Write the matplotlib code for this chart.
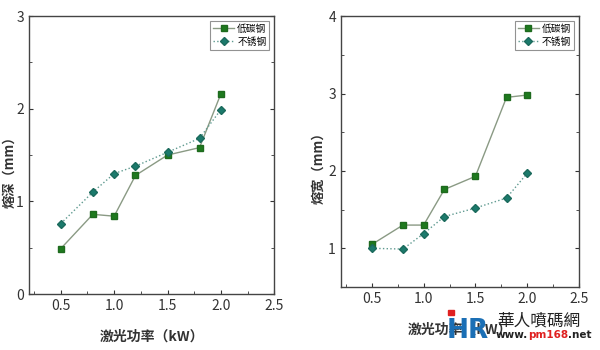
import matplotlib
matplotlib.use("Agg")
import matplotlib.pyplot as plt
from matplotlib.patches import Rectangle
from matplotlib.ticker import MultipleLocator

plt.rcParams['font.family'] = ['Noto Sans CJK SC', 'DejaVu Sans']

power = [0.5, 0.8, 1.0, 1.2, 1.5, 1.8, 2.0]
depth_carbon = [0.49, 0.86, 0.84, 1.28, 1.50, 1.58, 2.16]
depth_stainless = [0.76, 1.10, 1.30, 1.38, 1.53, 1.68, 1.99]
width_carbon = [1.05, 1.30, 1.30, 1.76, 1.93, 2.95, 2.98]
width_stainless = [1.00, 0.99, 1.19, 1.41, 1.52, 1.65, 1.97]
series_names = ["低碳钢", "不锈钢"]
xlabel = "激光功率（kW）"

fig = plt.figure(figsize=(6, 3.5), dpi=100)
ax1 = fig.add_axes([0.048, 0.16, 0.409, 0.794])
ax2 = fig.add_axes([0.568, 0.18, 0.397, 0.774])

tick_col = "#333333"


def draw(ax, carbon, stainless, ylim, ylabel, ylab_x):
    ax.plot(power, carbon, "-", color="#8a9a84", lw=1.0, marker="s", ms=5,
            mfc="#1e7a1e", mec="#1e6a1e", label=series_names[0])
    ax.plot(power, stainless, ":", color="#5f9a90", lw=1.0, marker="D", ms=4.5,
            mfc="#1b7a6c", mec="#1b6a5c", label=series_names[1])
    ax.set_xlim(0.2, 2.5)
    ax.set_ylim(*ylim)
    ax.xaxis.set_major_locator(MultipleLocator(0.5))
    ax.xaxis.set_minor_locator(MultipleLocator(0.25))
    ax.yaxis.set_major_locator(MultipleLocator(1))
    ax.yaxis.set_minor_locator(MultipleLocator(0.5))
    ax.tick_params(which="both", direction="in", right=True, top=False,
                   labelsize=10, colors=tick_col, length=3)
    ax.tick_params(which="minor", length=2)
    for s in ax.spines.values():
        s.set_color("#444444")
        s.set_linewidth(1.0)
    ax.set_ylabel(ylabel, fontsize=9.5, fontweight="bold", color=tick_col)
    ax.yaxis.set_label_coords(ylab_x, 0.45)
    ax.set_xlabel(xlabel, fontsize=10, fontweight="bold", color=tick_col, labelpad=12)
    leg = ax.legend(loc="upper right", fontsize=7, frameon=True, fancybox=False,
                    handlelength=2.2, borderpad=0.3, labelspacing=0.3,
                    handletextpad=0.3, borderaxespad=0.5)
    leg.get_frame().set_edgecolor("#777777")
    leg.get_frame().set_linewidth(0.8)


draw(ax1, depth_carbon, depth_stainless, (0, 3), "熔深（mm）", -0.05)
draw(ax2, width_carbon, width_stainless, (0.5, 4), "熔宽（mm）", -0.065)

# watermark (bottom right), sits over the x label as in the source image
fig.text(0.745, 0.035, "HR", fontsize=19, fontweight="bold", color="#1b6fb5",
         family="DejaVu Sans")
fig.patches.append(Rectangle((0.746, 0.1), 0.011, 0.013, transform=fig.transFigure,
                             color="#e02020", zorder=5))
fig.text(0.828, 0.07, "華人噴碼網", fontsize=12, color="#222222")
www = fig.text(0.826, 0.035, "www.", fontsize=7.5, fontweight="bold",
               color="#222222", family="DejaVu Sans")
pm = plt.annotate("pm168", xy=(1, 0), xycoords=www, va="bottom", fontsize=7.5,
                  fontweight="bold", color="#e02020", family="DejaVu Sans",
                  annotation_clip=False)
plt.annotate(".net", xy=(1, 0), xycoords=pm, va="bottom", fontsize=7.5,
             fontweight="bold", color="#222222", family="DejaVu Sans",
             annotation_clip=False)

fig.savefig("out.png", dpi=100)
